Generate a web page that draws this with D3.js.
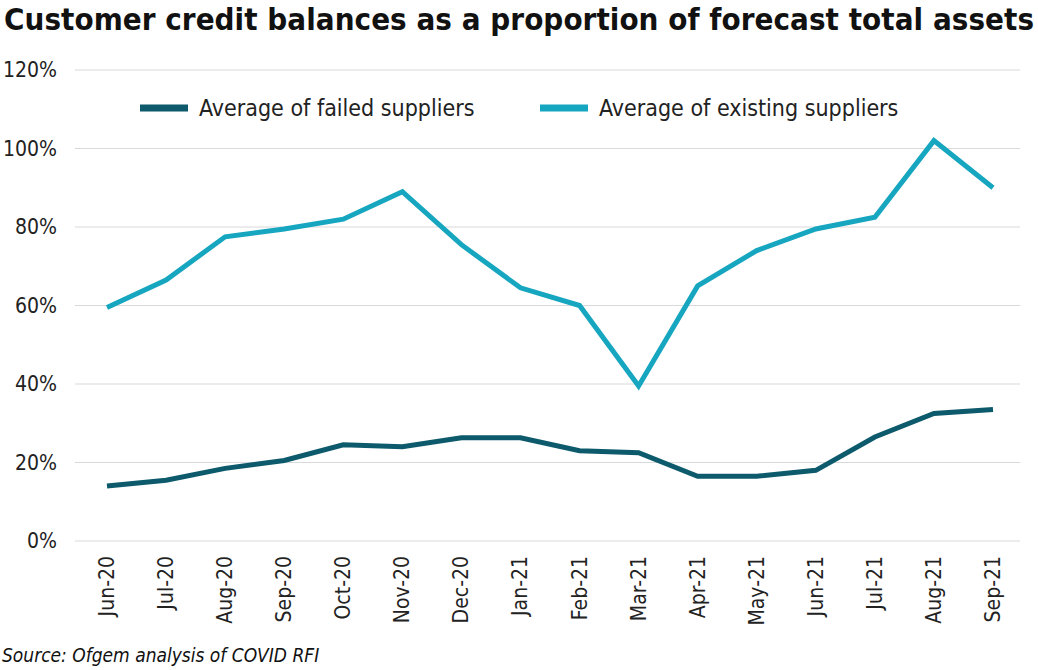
<!DOCTYPE html>
<html><head><meta charset="utf-8">
<script src="https://cdn.jsdelivr.net/npm/d3@7"></script>
<style>
body{margin:0;background:#fff;font-family:"Liberation Sans Narrow","DejaVu Sans Condensed",sans-serif;}
</style></head><body>
<svg width="1038" height="670"></svg>
<script>
const months = ["Jun-20","Jul-20","Aug-20","Sep-20","Oct-20","Nov-20","Dec-20","Jan-21","Feb-21","Mar-21","Apr-21","May-21","Jun-21","Jul-21","Aug-21","Sep-21"];
const failed = [14,15.5,18.5,20.5,24.5,24,26.3,26.3,23,22.5,16.5,16.5,18,26.5,32.5,33.5];
const existing = [59.5,66.5,77.5,79.5,82,89,75.5,64.5,60,39.5,65,74,79.5,82.5,102,90];
const yTicks = [0,20,40,60,80,100,120];

const svg = d3.select('svg');
const plotLeft = 75, plotRight = 1020, plotTop = 70, plotBottom = 541;

const x = d3.scalePoint().domain(months).range([plotLeft+32, plotRight-27]);
const y = d3.scaleLinear().domain([0,120]).range([plotBottom, plotTop]);

svg.append('text').attr('x',4).attr('y',30)
  .style('font-size','31px').style('font-weight','bold').attr('fill','#111')
  .attr('textLength',1030)
  .text('Customer credit balances as a proportion of forecast total assets');

// grid
svg.append('g').selectAll('line').data(yTicks).enter().append('line')
  .attr('x1',plotLeft).attr('x2',plotRight)
  .attr('y1',d=>y(d)).attr('y2',d=>y(d))
  .attr('stroke','#d9d9d9').attr('stroke-width',1);

svg.append('g').selectAll('text').data(yTicks).enter().append('text')
  .attr('x',57).attr('y',d=>y(d)+7).attr('text-anchor','end')
  .style('font-size','21px').attr('fill','#222')
  .text(d=>d+'%');

svg.append('g').selectAll('text').data(months).enter().append('text')
  .attr('transform',d=>`translate(${x(d)+7},556) rotate(-90)`)
  .attr('text-anchor','end')
  .style('font-size','21px').attr('fill','#222')
  .text(d=>d);

const line = d3.line().x((d,i)=>x(months[i])).y(d=>y(d));
svg.append('path').datum(existing).attr('d',line)
  .attr('fill','none').attr('stroke','#17a6bf').attr('stroke-width',5);
svg.append('path').datum(failed).attr('d',line)
  .attr('fill','none').attr('stroke','#0c5a6b').attr('stroke-width',5);

// legend
const legend = [["Average of failed suppliers","#0c5a6b",140],["Average of existing suppliers","#17a6bf",540]];
legend.forEach(l=>{
  svg.append('line').attr('x1',l[2]).attr('x2',l[2]+48).attr('y1',108).attr('y2',108)
    .attr('stroke',l[1]).attr('stroke-width',7);
  svg.append('text').attr('x',l[2]+59).attr('y',116)
    .style('font-size','23px').attr('fill','#222').text(l[0]);
});

svg.append('text').attr('x',2).attr('y',662)
  .style('font-size','19px').style('font-style','italic').attr('fill','#111')
  .text('Source: Ofgem analysis of COVID RFI');
</script>
</body></html>
